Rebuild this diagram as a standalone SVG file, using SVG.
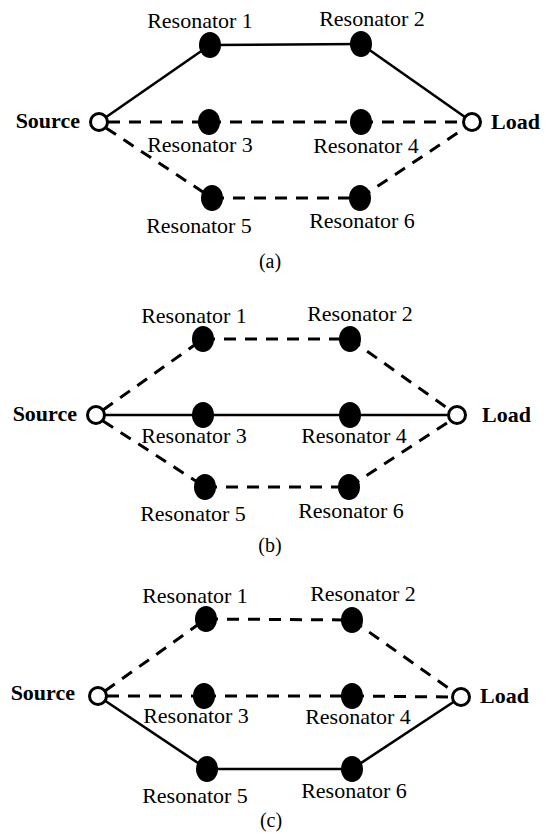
<svg xmlns="http://www.w3.org/2000/svg" width="549" height="834" viewBox="0 0 549 834">
<style>
.res{fill:#000}
.port{fill:#fff;stroke:#000;stroke-width:3}
.lbl{font-family:"Liberation Serif","Times New Roman",serif;font-size:22px;fill:#000;text-anchor:middle}
.term{font-family:"Liberation Serif","Times New Roman",serif;font-size:22px;font-weight:bold;fill:#000}
.cap{font-family:"Liberation Serif","Times New Roman",serif;font-size:20px;fill:#000;text-anchor:middle}
.s{stroke:#000;stroke-width:2.6;fill:none}
.d{stroke:#000;stroke-width:3;fill:none;stroke-dasharray:12 9}
</style>
<rect width="549" height="834" fill="#fff"/>

<!-- Panel (a) -->
<g id="connectors-a">
<line class="s" x1="99" y1="122" x2="210" y2="45"/>
<line class="s" x1="210" y1="45" x2="361" y2="44"/>
<line class="s" x1="361" y1="44" x2="472" y2="122"/>
<line class="d" x1="108" y1="122" x2="209" y2="122"/>
<line class="d" x1="209" y1="122" x2="361" y2="122"/>
<line class="d" x1="361" y1="122" x2="463" y2="122"/>
<line class="d" x1="106" y1="128" x2="212" y2="198"/>
<line class="d" x1="212" y1="198" x2="360" y2="198"/>
<line class="d" x1="360" y1="198" x2="465" y2="128"/>
</g>
<g id="a-source"><circle class="port" cx="99" cy="122" r="8.5"/><text class="term" x="80" y="128" text-anchor="end">Source</text></g>
<g id="a-load"><circle class="port" cx="472" cy="122" r="8.5"/><text class="term" x="491" y="129">Load</text></g>
<g id="a-r1"><ellipse class="res" cx="210" cy="45" rx="11" ry="13"/><text class="lbl" x="200" y="28">Resonator 1</text></g>
<g id="a-r2"><ellipse class="res" cx="361" cy="44" rx="11" ry="13"/><text class="lbl" x="372" y="26">Resonator 2</text></g>
<g id="a-r3"><ellipse class="res" cx="209" cy="122" rx="11" ry="13"/><text class="lbl" x="200" y="152">Resonator 3</text></g>
<g id="a-r4"><ellipse class="res" cx="361" cy="122" rx="11" ry="13"/><text class="lbl" x="366" y="153">Resonator 4</text></g>
<g id="a-r5"><ellipse class="res" cx="212" cy="198" rx="11" ry="13"/><text class="lbl" x="199" y="233">Resonator 5</text></g>
<g id="a-r6"><ellipse class="res" cx="360" cy="198" rx="11" ry="13"/><text class="lbl" x="362" y="228">Resonator 6</text></g>
<text class="cap" x="270" y="268">(a)</text>

<!-- Panel (b) -->
<g id="connectors-b">
<line class="d" x1="103" y1="410" x2="203" y2="339"/>
<line class="d" x1="203" y1="339" x2="350" y2="339"/>
<line class="d" x1="350" y1="339" x2="450" y2="410"/>
<line class="s" x1="96" y1="415" x2="457" y2="415"/>
<line class="d" x1="103" y1="421" x2="205" y2="487"/>
<line class="d" x1="205" y1="487" x2="349" y2="487"/>
<line class="d" x1="349" y1="487" x2="450" y2="421"/>
</g>
<g id="b-source"><circle class="port" cx="96" cy="415" r="8.5"/><text class="term" x="77" y="421" text-anchor="end">Source</text></g>
<g id="b-load"><circle class="port" cx="457" cy="415" r="8.5"/><text class="term" x="482" y="422">Load</text></g>
<g id="b-r1"><ellipse class="res" cx="203" cy="339" rx="11" ry="13"/><text class="lbl" x="194" y="323">Resonator 1</text></g>
<g id="b-r2"><ellipse class="res" cx="350" cy="339" rx="11" ry="13"/><text class="lbl" x="360" y="321">Resonator 2</text></g>
<g id="b-r3"><ellipse class="res" cx="203" cy="415" rx="11" ry="13"/><text class="lbl" x="194" y="443">Resonator 3</text></g>
<g id="b-r4"><ellipse class="res" cx="350" cy="415" rx="11" ry="13"/><text class="lbl" x="354" y="443">Resonator 4</text></g>
<g id="b-r5"><ellipse class="res" cx="205" cy="487" rx="11" ry="13"/><text class="lbl" x="193" y="521">Resonator 5</text></g>
<g id="b-r6"><ellipse class="res" cx="349" cy="487" rx="11" ry="13"/><text class="lbl" x="351" y="518">Resonator 6</text></g>
<text class="cap" x="270" y="552">(b)</text>

<!-- Panel (c) -->
<g id="connectors-c">
<line class="d" x1="105" y1="691" x2="206" y2="619"/>
<line class="d" x1="206" y1="619" x2="352" y2="620"/>
<line class="d" x1="352" y1="620" x2="454" y2="692"/>
<line class="d" x1="107" y1="696" x2="204" y2="696"/>
<line class="d" x1="204" y1="696" x2="352" y2="696"/>
<line class="d" x1="352" y1="696" x2="452" y2="697"/>
<line class="s" x1="98" y1="696" x2="207" y2="769"/>
<line class="s" x1="207" y1="769" x2="352" y2="769"/>
<line class="s" x1="352" y1="769" x2="461" y2="697"/>
</g>
<g id="c-source"><circle class="port" cx="98" cy="696" r="8.5"/><text class="term" x="75" y="700" text-anchor="end">Source</text></g>
<g id="c-load"><circle class="port" cx="461" cy="697" r="8.5"/><text class="term" x="480" y="703">Load</text></g>
<g id="c-r1"><ellipse class="res" cx="206" cy="619" rx="11" ry="13"/><text class="lbl" x="195" y="603">Resonator 1</text></g>
<g id="c-r2"><ellipse class="res" cx="352" cy="620" rx="11" ry="13"/><text class="lbl" x="363" y="601">Resonator 2</text></g>
<g id="c-r3"><ellipse class="res" cx="204" cy="696" rx="11" ry="13"/><text class="lbl" x="196" y="723">Resonator 3</text></g>
<g id="c-r4"><ellipse class="res" cx="352" cy="696" rx="11" ry="13"/><text class="lbl" x="358" y="724">Resonator 4</text></g>
<g id="c-r5"><ellipse class="res" cx="207" cy="769" rx="11" ry="13"/><text class="lbl" x="195" y="803">Resonator 5</text></g>
<g id="c-r6"><ellipse class="res" cx="352" cy="769" rx="11" ry="13"/><text class="lbl" x="354" y="798">Resonator 6</text></g>
<text class="cap" x="271" y="827">(c)</text>
</svg>
